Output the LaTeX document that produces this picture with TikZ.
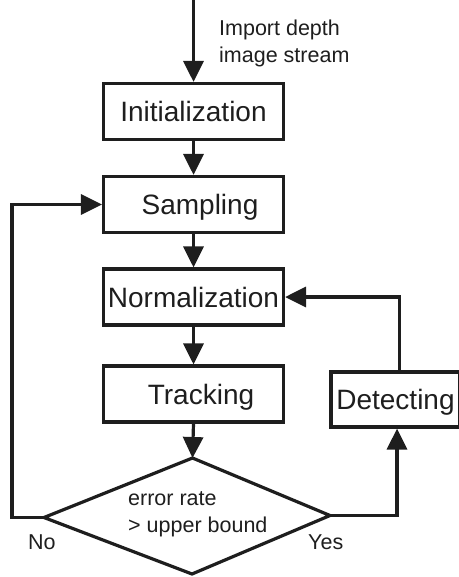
\documentclass[tikz,border=0pt]{standalone}
\usepackage{fontspec}
\setmainfont{Liberation Sans}
\usetikzlibrary{arrows.meta}
\definecolor{ink}{HTML}{1E1E1E}
\begin{document}
\begin{tikzpicture}[x=1pt,y=-1pt,
  box/.style={draw=ink, line width=3.2pt, minimum width=180pt, minimum height=56pt,
    inner sep=0pt, text=ink, font=\fontsize{28}{32}\selectfont,
    text height=20pt, text depth=0pt},
  flow/.style={draw=ink, line width=3.2pt, -{Triangle[length=21pt,width=20pt]}},
  small/.style={inner sep=0pt, text=ink, font=\fontsize{21.5}{26.5}\selectfont}]
\useasboundingbox (0,0) rectangle (458,577);

% process boxes
\node[box] (init)  at (193.5,111.5) {Initialization};
\node[box] (samp)  at (193.5,204.5) {\hspace*{13pt}Sampling};
\node[box] (norm)  at (193.5,297)   {Normalization};
\node[box] (track) at (193.5,394)   {\hspace*{15pt}Tracking};
\node[box, minimum width=129pt, minimum height=55pt] (det) at (395.5,399.5) {Detecting};

% decision diamond
\coordinate (dtop)   at (192.5,458);
\coordinate (dright) at (330,515.5);
\coordinate (dbot)   at (192,574);
\coordinate (dleft)  at (44,517.5);
\draw[ink, line width=3.2pt] (dtop) -- (dright) -- (dbot) -- (dleft) -- cycle;
% two-line labels: the base anchor sits on the last line
\node[small, anchor=base west, align=left] (cond) at (128,532) {error rate\\> upper bound};
\node[small, anchor=base west] (no)  at (28,549.5)  {No};
\node[small, anchor=base west] (yes) at (308,549.5) {Yes};

% input stream
\coordinate (in) at (193.5,-3);
\node[small, anchor=base west, align=left] (src) at (219,62.5) {Import depth\\image stream};

% connectors
\draw[flow] (in) -- (init.north);
\draw[flow] (init) -- (samp);
\draw[flow] (samp) -- (norm);
\draw[flow] (norm) -- (track);
\draw[flow] (track.south) -- (dtop);
\draw[flow] (dleft) -- ++(-32,0) |- (samp.west);
\draw[flow] (dright) -| ([xshift=1.5pt]det.south);
\draw[flow] ([xshift=3.8pt]det.north) |- (norm.east);
\end{tikzpicture}
\end{document}
